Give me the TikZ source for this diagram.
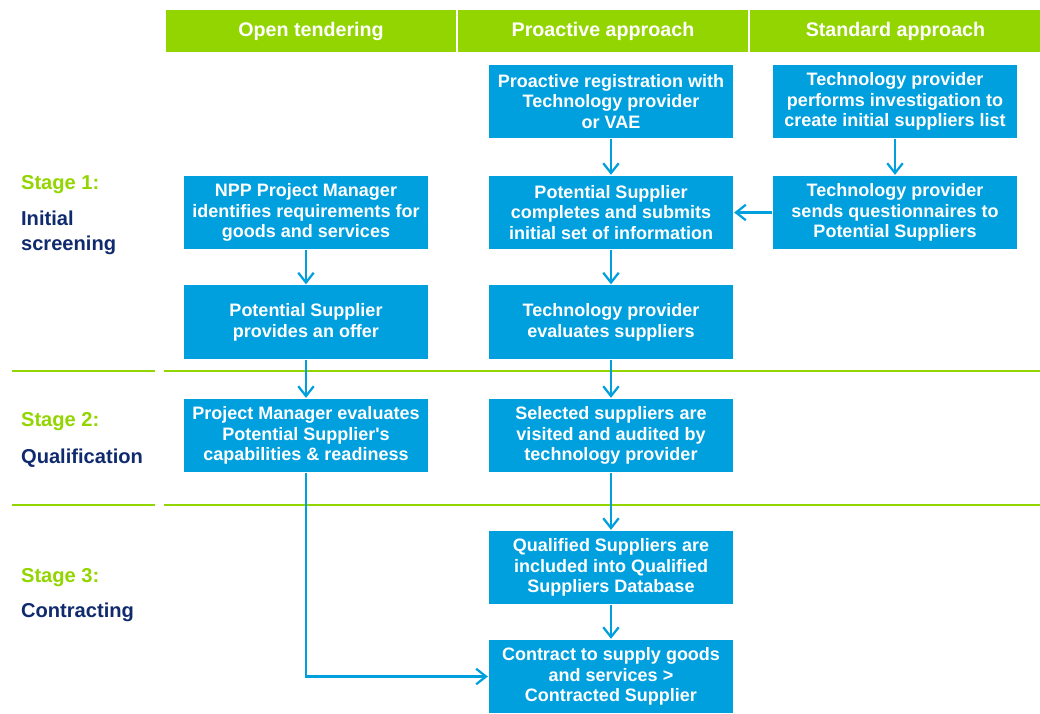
\documentclass[tikz,border=0pt]{standalone}
\usepackage{fontspec}
\setmainfont{Liberation Sans}
\usetikzlibrary{arrows.meta}
\definecolor{lime}{HTML}{93D500}
\definecolor{sky}{HTML}{00A0DE}
\definecolor{navy}{HTML}{102A6E}
\tikzstyle{hd}=[shape=rectangle,
                fill=lime,
                text=white,
                minimum height=1.05cm,
                minimum width=7.25cm,
                font=\bfseries\fontsize{14}{16}\selectfont]
\tikzstyle{bx}=[shape=rectangle,
                fill=sky,
                text=white,
                align=center,
                inner sep=0pt,
                minimum height=1.825cm,
                minimum width=6.1cm,
                font=\bfseries\fontsize{12.8}{14.8}\selectfont]
\tikzstyle{stg}=[anchor=west,
                inner sep=0pt,
                text=lime,
                font=\bfseries\fontsize{14.3}{17.8}\selectfont]
\tikzstyle{nm}=[anchor=west,
                inner sep=0pt,
                align=left,
                text=navy,
                font=\bfseries\fontsize{14.3}{17.8}\selectfont]

\begin{document}
\begin{tikzpicture}[x=0.025cm,y=-0.025cm,>={Straight Barb[length=7pt,width=11pt]},line width=1.6pt]
\useasboundingbox (0,0) rectangle (1040,713);

% column headers
\node[hd] (h1) at (311,31)   {Open tendering};
\node[hd] (h2) at (603,31)   {Proactive approach};
\node[hd] (h3) at (895.5,31) {Standard approach};

% stage separators
\draw[lime] (12,371) -- (155,371) (164,371) -- (1040,371);
\draw[lime] (12,505) -- (155,505) (164,505) -- (1040,505);

% stages
\node[stg] (g1) at (20,184.5) {Stage 1:};
\node[nm]  (n1) at (20,233)   {Initial\\screening};
\node[stg] (g2) at (20,421.5) {Stage 2:};
\node[nm]  (n2) at (20,458.5) {Qualification};
\node[stg] (g3) at (20,577.5) {Stage 3:};
\node[nm]  (n3) at (20,612.5) {Contracting};

% open tendering
\node[bx] (o1) at (306,212.5) {NPP Project Manager\\identifies requirements for\\goods and services};
\node[bx] (o2) at (306,322)   {Potential Supplier\\provides an offer};
\node[bx] (o3) at (306,435.5) {Project Manager evaluates\\Potential Supplier\textquotesingle s\\capabilities \& readiness};

% proactive approach
\node[bx] (p1) at (611,101.5) {Proactive registration with\\Technology provider\\or VAE};
\node[bx] (p2) at (611,212.5) {Potential Supplier\\completes and submits\\initial set of information};
\node[bx] (p3) at (611,322)   {Technology provider\\evaluates suppliers};
\node[bx] (p4) at (611,435.5) {Selected suppliers are\\visited and audited by\\technology provider};
\node[bx] (p5) at (611,567.5) {Qualified Suppliers are\\included into Qualified\\Suppliers Database};
\node[bx] (p6) at (611,676.5) {Contract to supply goods\\and services >\\Contracted Supplier};

% standard approach
\node[bx] (s1) at (895,101.5) {Technology provider\\performs investigation to\\create initial suppliers list};
\node[bx] (s2) at (895,212.5) {Technology provider\\sends questionnaires to\\Potential Suppliers};

% paths
\path[->,sky] (o1) edge (o2)
          (o2) edge (o3)
          (p1) edge (p2)
          (p2) edge (p3)
          (p3) edge (p4)
          (p4) edge (p5)
          (p5) edge (p6)
          (s1) edge (s2)
          (s2) edge (p2);
\draw[->,sky] (o3) |- (p6);
\end{tikzpicture}
\end{document}
